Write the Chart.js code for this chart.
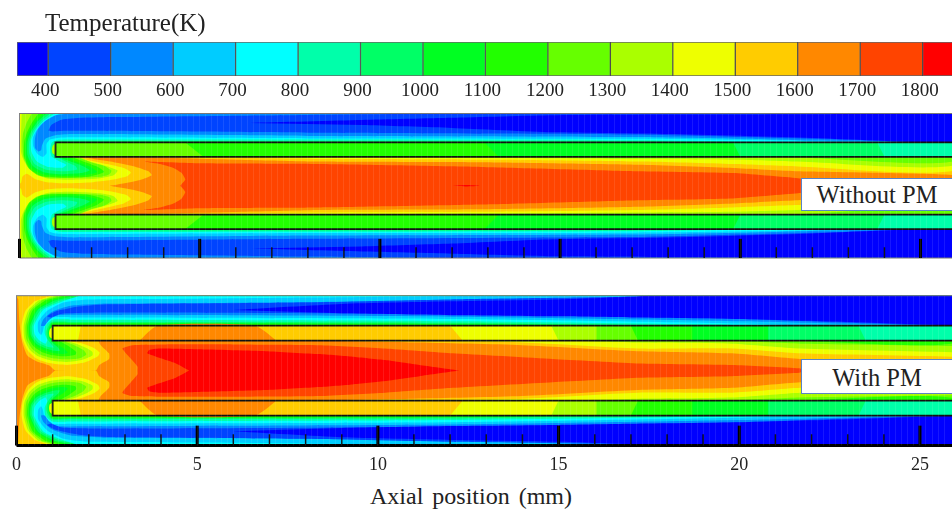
<!DOCTYPE html>
<html>
<head>
<meta charset="utf-8">
<title>Temperature contours</title>
<script src="https://cdn.jsdelivr.net/npm/chart.js@4"></script>
<style>
  html, body { margin: 0; padding: 0; background: #fff; overflow: hidden; }
  body { width: 952px; height: 513px; position: relative; font-family: "Liberation Serif", serif; color: #222; }
  canvas { position: absolute; }
  #barCanvas { left: 0; top: 0; }
  #withoutCanvas { left: 9px; top: 105px; filter: blur(0.5px); }
  #withCanvas { left: 3px; top: 290px; filter: blur(0.5px); }
  .txt { position: absolute; white-space: nowrap; }
  #barTitle { left: 45px; top: 9px; font-size: 25px; }
  #axisTitle { left: 370px; top: 483px; font-size: 24px; word-spacing: 3px; }
  .tag { position: absolute; left: 801px; width: 151px; box-sizing: border-box; background: #fff; border: 1.5px solid #5b84c4; border-right: 0; text-align: center; font-size: 24.5px; }
  #tagWithout { top: 178px; height: 33px; line-height: 32px; }
  #tagWith { top: 359px; height: 35px; line-height: 35px; }
</style>
</head>
<body>
<canvas id="barCanvas" width="952" height="100"></canvas>
<canvas id="withoutCanvas" width="943" height="160"></canvas>
<canvas id="withCanvas" width="949" height="190"></canvas>
<div class="txt" id="barTitle">Temperature(K)</div>
<div class="txt" id="axisTitle">Axial position (mm)</div>
<div class="tag" id="tagWithout">Without PM</div>
<div class="tag" id="tagWith">With PM</div>

<script>
// colour bar
const bandStarts = [350, 400, 500, 600, 700, 800, 900, 1000, 1100, 1200, 1300, 1400, 1500, 1600, 1700, 1800];
const bandEnds = [400, 500, 600, 700, 800, 900, 1000, 1100, 1200, 1300, 1400, 1500, 1600, 1700, 1800, 1900];
const bandColors = ["#0000ff", "#0044ff", "#0088ff", "#00ccff", "#00ffff", "#00ffaa", "#00ff66", "#00ff22",
  "#22ff00", "#66ff00", "#aaff00", "#eeff00", "#ffcc00", "#ff8800", "#ff4400", "#ff0000"];
const barTicks = [400, 500, 600, 700, 800, 900, 1000, 1100, 1200, 1300, 1400, 1500, 1600, 1700, 1800];

// axial ticks (mm)
const majorTicks = [0, 5, 10, 15, 20, 25];
const minorTicks = [1, 2, 3, 4, 6, 7, 8, 9, 11, 12, 13, 14, 16, 17, 18, 19, 21, 22, 23, 24];

// contours, upper half of the channel, [axial mm, radial mm]. Without PM
const aAbove1600 = [[2.5,0],[3.07,.1],[3.44,.19],[3.67,.29],[3.58,.4],[3.16,.54],[2.52,.67],[1.91,.77],[3.5,.78],[5,.75],[8.35,.67],[12.8,.65],[17.2,.58],[19.8,.49],[21.6,.4],[26,.29],[26,0]];
const aAbove1700 = [[4.46,0],[4.6,.17],[4.5,.35],[4.27,.49],[3.9,.6],[3.44,.67],[5,.62],[8.35,.6],[12.8,.52],[17.2,.4],[19.8,.35],[21.6,.21],[23,.1],[24,0]];
const aAbove1800 = [[12,0],[12.4,.02],[12.8,0]];
const aBelow1500 = [[0,2],[26,2],[26,.44],[21.6,.535],[19.8,.6],[17.2,.67],[12.8,.72],[8.35,.74],[5,.78],[3,.8],[1.45,.8],[1.87,.72],[2.42,.6],[2.89,.49],[3.09,.37],[2.98,.26],[2.61,.17],[2.05,.1],[1.31,.07],[.76,.1],[.43,.19],[.2,.33],[.08,.25],[.05,.1],[0,.05]];
const aBelow1400 = [[.06,2],[26,2],[26,.58],[21.6,.67],[19.8,.72],[17.2,.74],[12.8,.77],[8.35,.795],[7,.8],[1.7,.8],[1.96,.67],[2.42,.54],[2.72,.42],[2.61,.29],[2.24,.21],[1.59,.17],[.85,.19],[.48,.3],[.25,.49],[.11,.72],[.04,.95],[.04,1.4]];
const aBelow1300 = [[.34,2],[26,2],[26,.69],[21.6,.78],[19.8,.8],[1.65,.8],[1.96,.66],[2.35,.55],[2.55,.42],[2.5,.32],[2.24,.25],[1.6,.22],[.85,.22],[.5,.3],[.25,.49],[.11,.8],[.08,1.2],[.1,1.45],[.2,1.75]];
const aBelow1200 = [[.52,2],[26,2],[26,1],[1.2,1],[1.45,.8],[1.75,.68],[2.15,.53],[2.35,.38],[1.9,.25],[1.2,.23],[.6,.27],[.28,.47],[.13,.8],[.13,1.2],[.2,1.45],[.33,1.72]];
const aBelow1100 = [[.66,2],[26,2],[26,1.19],[1,1.19],[.96,1],[1.05,.84],[1.3,.8],[1.55,.68],[1.95,.53],[2.15,.38],[1.8,.29],[1.2,.27],[.65,.32],[.32,.5],[.17,.82],[.18,1.2],[.26,1.48],[.42,1.75]];
const aBelow1000 = [[.75,2],[26,2],[26,1.2],[19,1.2],[17,1.21],[1.1,1.2],[.98,1.12],[.95,.95],[1.02,.82],[1.15,.77],[1.4,.68],[1.75,.55],[1.95,.43],[1.7,.35],[1.2,.32],[.7,.37],[.37,.55],[.22,.85],[.22,1.2],[.32,1.5],[.5,1.78]];
const aBelow900 = [[.85,2],[26,2],[26,1.2],[19,1.2],[17,1.23],[1.1,1.23],[.95,1.15],[.9,1],[.95,.85],[1.1,.76],[1.3,.66],[1.55,.55],[1.6,.45],[1.2,.4],[.75,.44],[.42,.6],[.27,.9],[.27,1.2],[.38,1.52],[.6,1.8]];
const aBelow800 = [[.97,2],[26,2],[26,1.2],[21,1.2],[20,1.22],[17,1.26],[1.6,1.28],[1.1,1.27],[.9,1.2],[.85,1],[.9,.8],[1.1,.68],[1.3,.58],[1.2,.5],[.8,.52],[.48,.68],[.33,.95],[.32,1.25],[.45,1.55],[.7,1.82]];
const aBelow700 = [[1.13,2],[26,2],[26,1.2],[23,1.2],[21.6,1.24],[17,1.3],[8,1.31],[1.6,1.34],[1.1,1.33],[.85,1.28],[.75,1.15],[.75,.9],[.65,.8],[.5,.88],[.38,1.1],[.38,1.35],[.55,1.65],[.85,1.88]];
const aBelow600 = [[1.36,2],[26,2],[26,1.2],[25,1.2],[22,1.25],[20,1.3],[17,1.35],[8,1.38],[1.5,1.43],[1,1.4],[.72,1.3],[.62,1.1],[.6,.98],[.52,.95],[.43,1.05],[.43,1.3],[.5,1.55],[.7,1.78],[1,1.95]];
const aBelow500 = [[.8,1.53],[.89,1.69],[1.17,1.83],[1.73,1.88],[2.65,1.9],[8,1.96],[12,2],[26,2],[26,1.2],[25,1.2],[23,1.27],[20,1.35],[17,1.42],[8,1.47],[2,1.52],[1.3,1.52],[.9,1.5]];
const aBelow400 = [[6.4,1.74],[9.5,1.82],[12,1.88],[14.8,1.95],[18,1.97],[22,1.98],[25,2],[26,2],[26,1.2],[25,1.2],[22,1.32],[18,1.43],[14.8,1.48],[12,1.6],[9.5,1.68]];
const aTipPatch = [[1,.85],[.92,.9],[.9,1],[.92,1.1],[1,1.18]];
const aTubeBands = [800, 900, 1000, 1100, 1200];
const aTubeEndsOuter = [26, 23.8, 19.8, 12.9, 4.6];
const aTubeEndsInner = [26, 24, 20, 13.3, 5.1];

// same again, With PM
const bAbove1700 = [[3.35,0],[3.35,.1],[3.16,.32],[2.93,.59],[3.2,.68],[4.13,.7],[5.98,.7],[8.38,.68],[10.2,.59],[12.07,.46],[14.84,.31],[17.24,.19],[19.8,.15],[21.66,.06],[21.8,0]];
const bAbove1800 = [[4.78,0],[4.41,.19],[3.95,.34],[3.62,.46],[3.67,.55],[3.95,.59],[5.05,.57],[6.9,.52],[8.38,.44],[9.3,.37],[10.2,.28],[11.15,.15],[12.26,0]];
const bBelow1600 = [[0,2],[26,2],[26,.15],[25.9,.15],[21.7,.31],[19.8,.46],[17.2,.52],[14,.68],[11,.75],[8.38,.79],[5,.81],[2.28,.81],[2.33,.68],[2.56,.46],[2.56,.31],[2.29,.15],[2.19,0],[1.08,0],[.9,.14],[.55,.25],[.3,.4],[.15,.8],[.08,1.3],[.05,1.9]];
const bBelow1500 = [[.95,2],[26,2],[26,.37],[25.9,.37],[21.7,.46],[19.8,.59],[17.2,.59],[14,.75],[11,.79],[8.38,.8],[1.45,.8],[1.8,.73],[2.15,.6],[2.3,.48],[2.25,.38],[1.9,.22],[1.4,.15],[.9,.2],[.55,.32],[.3,.55],[.17,.85],[.14,1.2],[.25,1.6],[.5,1.85]];
const bBelow1400 = [[1.05,2],[26,2],[26,.49],[25.9,.49],[21.7,.59],[19.8,.72],[17.2,.75],[15.5,.79],[14,.8],[1.35,.8],[1.65,.72],[1.95,.6],[2.1,.5],[2.1,.4],[1.8,.28],[1.4,.23],[.95,.27],[.6,.38],[.35,.58],[.22,.85],[.2,1.2],[.32,1.6],[.6,1.87]];
const bBelow1300 = [[1.15,2],[26,2],[26,.66],[25.9,.66],[21.7,.72],[19.8,.79],[17,.8],[1.3,.8],[1.6,.68],[1.85,.55],[1.93,.43],[1.75,.33],[1.4,.3],[1,.33],[.65,.43],[.42,.6],[.27,.85],[.25,1.2],[.38,1.6],[.7,1.88]];
const bBelow1200 = [[1.3,2],[26,2],[26,.75],[21.7,.79],[20,.8],[1.1,.8],[1.25,.76],[1.5,.62],[1.65,.5],[1.63,.42],[1.35,.38],[1,.41],[.7,.5],[.47,.65],[.32,.9],[.3,1.2],[.45,1.62],[.8,1.88]];
const bBelow1100 = [[1.45,2],[26,2],[26,1.2],[15,1.2],[12,1.22],[1.5,1.25],[1,1.24],[.93,1.05],[.97,.85],[1.1,.72],[1.3,.6],[1.42,.48],[1.3,.44],[1.05,.46],[.75,.55],[.52,.68],[.36,.92],[.34,1.2],[.55,1.63],[.95,1.88]];
const bBelow1000 = [[1.65,2],[26,2],[26,1.2],[17,1.2],[12,1.25],[1.5,1.27],[.97,1.27],[.88,1.05],[.9,.88],[1,.74],[1.15,.62],[1.2,.53],[1.05,.53],[.8,.6],[.55,.72],[.4,.93],[.38,1.2],[.6,1.63],[1.05,1.87]];
const bBelow900 = [[2,2],[26,2],[26,1.2],[19,1.2],[17,1.22],[12,1.28],[1.5,1.3],[.97,1.3],[.82,1.05],[.85,.85],[.95,.72],[1.03,.62],[.85,.64],[.6,.75],[.44,.95],[.43,1.2],[.68,1.63],[1.2,1.87]];
const bBelow800 = [[1.75,2],[26,2],[26,1.2],[21,1.2],[20,1.22],[12,1.32],[1.5,1.36],[1,1.36],[.8,1.2],[.78,1],[.85,.82],[.8,.72],[.62,.82],[.5,.98],[.48,1.2],[.75,1.63],[1.3,1.86]];
const bBelow700 = [[13,2],[26,2],[26,1.2],[22,1.2],[20,1.26],[12,1.38],[1.5,1.42],[1,1.42],[.78,1.25],[.73,1.05],[.68,.95],[.6,1.05],[.6,1.3],[.85,1.6],[1.3,1.82],[2,1.9],[5,1.92],[8,1.95],[11,1.98]];
const bBelow600 = [[18,2],[26,2],[26,1.2],[25.5,1.2],[23,1.25],[20,1.32],[12,1.44],[1.5,1.49],[1.1,1.47],[.9,1.35],[.78,1.2],[.68,1.2],[.75,1.38],[1,1.58],[1.5,1.73],[2.5,1.79],[5,1.8],[10,1.85],[15,1.93]];
const bBelow500 = [[18.5,2],[26,2],[26,1.2],[25.8,1.2],[23,1.28],[20,1.38],[12,1.5],[2.6,1.55],[1.26,1.52],[.95,1.42],[.85,1.45],[1.08,1.58],[1.72,1.71],[2.6,1.77],[8,1.82],[12,1.9],[17,1.97]];
const bBelow400 = [[6,1.62],[9,1.78],[12,1.85],[15,1.9],[17,1.97],[17.5,2],[26,2],[26,1.2],[25.5,1.22],[23,1.3],[20,1.38],[17,1.42],[15,1.45],[12,1.48],[9,1.53]];
const bTipPatch = [[1,.85],[.92,.9],[.9,1],[.92,1.1],[1,1.18]];
const bTubeBands = [800, 900, 1000, 1100, 1200, 1300, 1400, 1500];
const bTubeEndsOuter = [26, 23.3, 20.8, 18.7, 17, 16.05, 14.8, 12];
const bTubeEndsInner = [26, 23.5, 20.8, 18.7, 17.2, 16.05, 15, 12.35];
const bTubeArch = [[3.4,.8],[3.9,1.2],[6.6,1.2],[7.2,.8]];
const bTubeStartEndsOuter = 1.78;
const bTubeStartEndsInner = 1.7;

const wallR = 2, tubeOuter = 1.2, tubeInner = 0.8;

function colorOf(level) {
  return bandColors[bandStarts.indexOf(level)];
}

function toXY(pts, sign) {
  return pts.map((p) => ({ x: p[0], y: p[1] * sign }));
}

function filled(pts, level, sign, tension) {
  return {
    data: toXY(pts, sign),
    showLine: true,
    pointRadius: 0,
    borderWidth: 0,
    tension: tension,
    fill: "shape",
    backgroundColor: colorOf(level),
  };
}

function line(pts, color, width, noClip) {
  return {
    data: pts.map((p) => ({ x: p[0], y: p[1] })),
    showLine: true,
    pointRadius: 0,
    borderWidth: width,
    borderColor: color,
    borderCapStyle: "butt",
    tension: 0,
    fill: false,
    clip: noClip ? false : undefined,
  };
}

function bothHalves(pts, level, tension) {
  return [filled(pts, level, 1, tension), filled(pts, level, -1, tension)];
}

// a core shape is only read on the upper half, joined to its mirror image
function core(pts, level) {
  const lower = pts.slice().reverse().map((p) => [p[0], -p[1]]);
  return filled(pts.concat(lower), level, 1, 0.15);
}

function tube(bands, outer, inner) {
  let out = [];
  bands.forEach((b, i) => {
    const seg = [[1, tubeOuter], [outer[i], tubeOuter], [inner[i], tubeInner], [1, tubeInner]];
    out = out.concat(bothHalves(seg, b, 0));
  });
  return out;
}

function furniture(frameColor, axisLine) {
  let sets = [];
  const lastX = 26;
  sets.push(line([[lastX, tubeOuter], [1, tubeOuter], [1, tubeInner], [lastX, tubeInner]], "#111", 1.8));
  sets.push(line([[lastX, -tubeOuter], [1, -tubeOuter], [1, -tubeInner], [lastX, -tubeInner]], "#111", 1.8));
  sets.push(line([[lastX, wallR], [0, wallR], [0, -wallR], [lastX, -wallR]], frameColor, 1, true));
  if (axisLine) sets.push(line([[0, -wallR], [lastX, -wallR]], "#000", 3, true));
  majorTicks.forEach((t) => sets.push(line([[t, -wallR], [t, -wallR + 0.53]], "#000", 3, true)));
  minorTicks.forEach((t) => sets.push(line([[t, -wallR], [t, -wallR + 0.3]], "#000", 1.4)));
  return sets;
}

function panelChart(id, datasets, xMax, padding, showAxis) {
  // Chart.js paints the last dataset first, so flip the paint-ordered list
  new Chart(document.getElementById(id), {
    type: "scatter",
    data: { datasets: datasets.slice().reverse() },
    options: {
      responsive: false,
      animation: false,
      layout: { padding: padding },
      plugins: { legend: { display: false }, tooltip: { enabled: false } },
      scales: {
        x: {
          type: "linear",
          min: 0,
          max: xMax,
          display: showAxis,
          border: { display: false },
          grid: { display: false, drawTicks: false },
          afterBuildTicks: (s) => { s.ticks = majorTicks.map((v) => ({ value: v })); },
          afterFit: (s) => { s.height = showAxis ? 34.5 : 0; },
          ticks: { color: "#222", padding: 9, maxRotation: 0, autoSkip: false, callback: (v) => String(v), font: { family: "Liberation Serif", size: 18 } },
        },
        // faint solver mesh showing through the contours
        mesh: {
          type: "linear",
          axis: "x",
          position: "top",
          min: 0,
          max: xMax,
          border: { display: false },
          grid: { color: "rgba(255,255,255,0.09)", drawTicks: false, z: 1 },
          afterFit: (s) => { s.height = 0; },
          ticks: { display: false, stepSize: 1 / 6, autoSkip: false },
        },
        y: { type: "linear", min: -wallR, max: wallR, display: false },
      },
    },
  });
}

const aCold = [[aBelow1500, 1400], [aBelow1400, 1300], [aBelow1300, 1200], [aBelow1200, 1100], [aBelow1100, 1000], [aBelow1000, 900],
  [aBelow900, 800], [aBelow800, 700], [aBelow700, 600], [aBelow600, 500], [aBelow500, 400], [aBelow400, 350]];
const bCold = [[bBelow1600, 1500], [bBelow1500, 1400], [bBelow1400, 1300], [bBelow1300, 1200], [bBelow1200, 1100], [bBelow1100, 1000], [bBelow1000, 900],
  [bBelow900, 800], [bBelow800, 700], [bBelow700, 600], [bBelow600, 500], [bBelow500, 400], [bBelow400, 350]];

const fullPanel = [[0, wallR], [26, wallR], [26, -wallR], [0, -wallR]];

let aSets = [filled(fullPanel, 1500, 1, 0), core(aAbove1600, 1600), core(aAbove1700, 1700), core(aAbove1800, 1800)];
aCold.forEach((c) => { aSets = aSets.concat(bothHalves(c[0], c[1], 0.2)); });
aSets = aSets.concat(tube(aTubeBands, aTubeEndsOuter, aTubeEndsInner));
aSets = aSets.concat(bothHalves(aTipPatch, 1300, 0.2));
aSets = aSets.concat(furniture("#777", false));

let bSets = [filled(fullPanel, 1600, 1, 0), core(bAbove1700, 1700), core(bAbove1800, 1800)];
bCold.forEach((c) => { bSets = bSets.concat(bothHalves(c[0], c[1], 0.2)); });
bSets = bSets.concat(tube(bTubeBands, bTubeEndsOuter, bTubeEndsInner));
bSets = bSets.concat(bothHalves(bTubeArch, 1600, 0.2));
bSets = bSets.concat(tube([1400], [bTubeStartEndsOuter], [bTubeStartEndsInner]));
bSets = bSets.concat(bothHalves(bTipPatch, 1400, 0.2));
bSets = bSets.concat(furniture("#777", true));

panelChart("withoutCanvas", aSets, (952 - 19.5) / 36.04, { left: 10.5, top: 8.5, bottom: 7, right: 0 }, false);
panelChart("withCanvas", bSets, (952 - 17.5) / 36.1, { left: 10.5, top: 5.7, bottom: 0, right: 0 }, true);

new Chart(document.getElementById("barCanvas"), {
  type: "bar",
  data: {
    labels: ["T"],
    datasets: bandStarts.map((s, i) => ({
      data: [[s, bandEnds[i]]],
      backgroundColor: bandColors[i],
      borderColor: "rgba(0,0,0,0.6)",
      borderWidth: 1,
      borderSkipped: false,
      barPercentage: 1,
      categoryPercentage: 1,
      grouped: false,
    })),
  },
  options: {
    indexAxis: "y",
    responsive: false,
    animation: false,
    layout: { padding: { left: 17, top: 42, right: 0, bottom: 0 } },
    plugins: { legend: { display: false }, tooltip: { enabled: false } },
    scales: {
      x: {
        type: "linear",
        min: 350,
        max: 1847,
        border: { display: false },
        grid: { display: false, drawTicks: false },
        afterBuildTicks: (s) => { s.ticks = barTicks.map((v) => ({ value: v })); },
        afterFit: (s) => { s.height = 24; },
        ticks: { color: "#222", padding: 4, labelOffset: -3, maxRotation: 0, autoSkip: false, callback: (v) => String(v), font: { family: "Liberation Serif", size: 19 } },
      },
      y: { display: false },
    },
  },
});
</script>
</body>
</html>
